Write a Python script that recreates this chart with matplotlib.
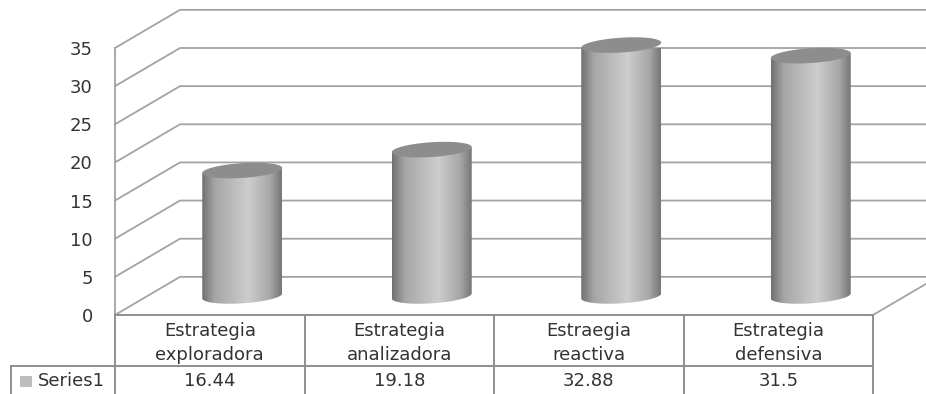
import numpy as np
import matplotlib
matplotlib.use('Agg')
import matplotlib.pyplot as plt
from matplotlib.colors import LinearSegmentedColormap
from matplotlib.patches import PathPatch, Rectangle
from matplotlib.path import Path

categories = ['Estrategia\nexploradora', 'Estrategia\nanalizadora', 'Estraegia\nreactiva', 'Estrategia\ndefensiva']
values = [16.44, 19.18, 32.88, 31.5]
value_labels = ['16.44', '19.18', '32.88', '31.5']
series_name = 'Series1'
y_ticks = [0, 5, 10, 15, 20, 25, 30, 35]

GRID = '#a3a3a3'
TABLE = '#8f8f8f'
TEXT = '#333333'

# depth of the fake 3d box, in data units
DEPTH_X = 0.343
DEPTH_Y = 5.0
# cylinder shape, in data units
RADIUS = 0.211
MINOR = 0.97
TILT = 0.33

W, H = 926, 394
fig = plt.figure(figsize=(W / 100, H / 100), dpi=100)
ax = fig.add_axes([115 / W, 1 - 315 / H, (873 - 115) / W, (315 - 48) / H])
ax.set_xlim(0, 4)
ax.set_ylim(0, 35)
ax.patch.set_visible(False)
for s in ax.spines.values():
    s.set_visible(False)

# walls and floor
for t in y_ticks:
    ax.plot([0, DEPTH_X, 4 + DEPTH_X], [t, t + DEPTH_Y, t + DEPTH_Y], color=GRID, lw=1.3, clip_on=False, zorder=1)
ax.plot([0, 0], [0, 35], color=GRID, lw=1.3, clip_on=False, zorder=1)
ax.plot([4, 4 + DEPTH_X], [0, DEPTH_Y], color=GRID, lw=1.3, clip_on=False, zorder=1)

# axis labels
ax.set_yticks(y_ticks)
ax.set_xticks(np.arange(4) + 0.5)
ax.set_xticklabels(categories, linespacing=1.42)
ax.tick_params(axis='y', length=0, pad=16, labelsize=13, labelcolor=TEXT)
ax.tick_params(axis='x', length=0, pad=5, labelsize=13, labelcolor=TEXT)

# cylinders
cmap = LinearSegmentedColormap.from_list('cyl', [(0, '#707070'), (0.16, '#a6a6a6'), (0.58, '#cdcdcd'), (0.85, '#a8a8a8'), (1, '#767676')])
gradient = np.linspace(0, 1, 256).reshape(1, -1)
t = np.linspace(0, np.pi, 60)
for i, v in enumerate(values):
    cx = i + 0.5 + DEPTH_X / 2
    base = DEPTH_Y / 2
    top = base + v
    # outline: down the left side, around the front of the base, up the right side
    xs = cx - RADIUS * np.cos(t)
    ys = base - TILT * np.cos(t) - MINOR * np.sin(t)
    outline = np.column_stack([np.r_[cx - RADIUS, xs, cx + RADIUS], np.r_[top - TILT, ys, top + TILT]])
    clip = PathPatch(Path(np.vstack([outline, outline[0]])), transform=ax.transData, fc='none', ec='none')
    ax.add_patch(clip)
    im = ax.imshow(gradient, cmap=cmap, extent=[cx - RADIUS, cx + RADIUS, 0, top + 2], aspect='auto', zorder=3, vmin=0, vmax=1)
    im.set_clip_path(clip)
    full = np.linspace(0, 2 * np.pi, 120)
    ax.fill(cx + RADIUS * np.cos(full), top + TILT * np.cos(full) + MINOR * np.sin(full), color='#8d8d8d', lw=0, zorder=4, clip_on=False)
ax.set_xlim(0, 4)
ax.set_ylim(0, 35)

# data table under the plot
units_per_px = 35 / (315 - 48)
row = -51 * units_per_px
bottom = -90 * units_per_px
legend_left = -104 / 189.5
table_kw = dict(color=TABLE, lw=1.4, clip_on=False, zorder=2)
ax.plot([0, 4], [0, 0], **table_kw)
ax.plot([legend_left, 4], [row, row], **table_kw)
ax.plot([legend_left, legend_left], [row, bottom], **table_kw)
for x in range(5):
    ax.plot([x, x], [0, bottom], **table_kw)
for i, lab in enumerate(value_labels):
    ax.text(i + 0.5, -66 * units_per_px, lab, ha='center', va='center', fontsize=13, color=TEXT, clip_on=False)

# legend key in the first table cell
ax.add_patch(Rectangle((-95 / 189.5, -72 * units_per_px), 12 / 189.5, 11 * units_per_px, fc='#bdbdbd', ec='none', clip_on=False))
ax.text(-77 / 189.5, -66 * units_per_px, series_name, ha='left', va='center', fontsize=13, color=TEXT, clip_on=False)

fig.savefig('out.png', dpi=100)
